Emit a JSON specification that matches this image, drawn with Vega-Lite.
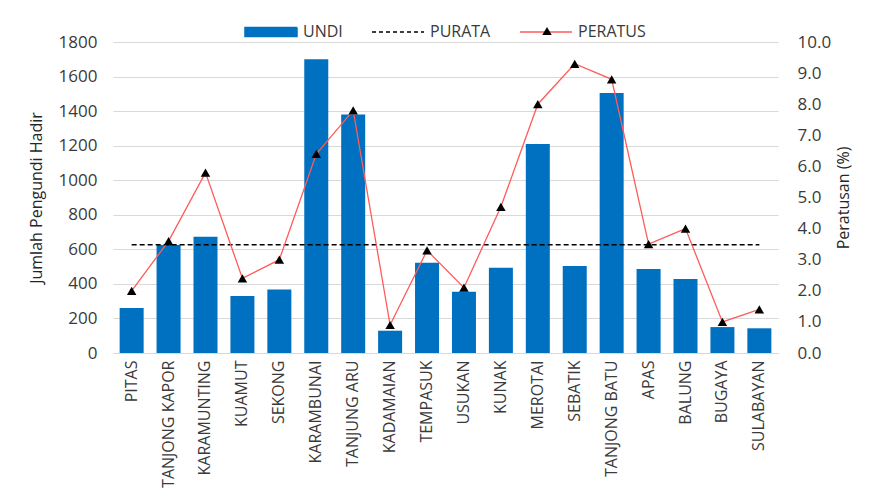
{
  "$schema": "https://vega.github.io/schema/vega-lite/v6.json",
  "width": 665,
  "height": 311,
  "autosize": {"type": "none"},
  "padding": {"left": 113, "top": 42, "right": 106, "bottom": 145},
  "background": "white",
  "config": {
    "font": "Open Sans",
    "view": {"stroke": null},
    "axis": {"labelFont": "Open Sans", "titleFont": "Open Sans", "labelColor": "#3a3a3a", "titleColor": "#262626", "titleFontWeight": "normal"}
  },
  "data": {
    "values": [
      {"kawasan": "PITAS", "UNDI": 260, "PURATA": 626, "PERATUS": 2.0},
      {"kawasan": "TANJONG KAPOR", "UNDI": 625, "PURATA": 626, "PERATUS": 3.6},
      {"kawasan": "KARAMUNTING", "UNDI": 673, "PURATA": 626, "PERATUS": 5.8},
      {"kawasan": "KUAMUT", "UNDI": 330, "PURATA": 626, "PERATUS": 2.4},
      {"kawasan": "SEKONG", "UNDI": 368, "PURATA": 626, "PERATUS": 3.0},
      {"kawasan": "KARAMBUNAI", "UNDI": 1700, "PURATA": 626, "PERATUS": 6.4},
      {"kawasan": "TANJUNG ARU", "UNDI": 1380, "PURATA": 626, "PERATUS": 7.8},
      {"kawasan": "KADAMAIAN", "UNDI": 129, "PURATA": 626, "PERATUS": 0.9},
      {"kawasan": "TEMPASUK", "UNDI": 523, "PURATA": 626, "PERATUS": 3.3},
      {"kawasan": "USUKAN", "UNDI": 355, "PURATA": 626, "PERATUS": 2.1},
      {"kawasan": "KUNAK", "UNDI": 494, "PURATA": 626, "PERATUS": 4.7},
      {"kawasan": "MEROTAI", "UNDI": 1209, "PURATA": 626, "PERATUS": 8.0},
      {"kawasan": "SEBATIK", "UNDI": 503, "PURATA": 626, "PERATUS": 9.3},
      {"kawasan": "TANJONG BATU", "UNDI": 1505, "PURATA": 626, "PERATUS": 8.8},
      {"kawasan": "APAS", "UNDI": 486, "PURATA": 626, "PERATUS": 3.5},
      {"kawasan": "BALUNG", "UNDI": 428, "PURATA": 626, "PERATUS": 4.0},
      {"kawasan": "BUGAYA", "UNDI": 150, "PURATA": 626, "PERATUS": 1.0},
      {"kawasan": "SULABAYAN", "UNDI": 143, "PURATA": 626, "PERATUS": 1.4}
    ]
  },
  "encoding": {
    "x": {
      "field": "kawasan",
      "type": "nominal",
      "sort": null,
      "scale": {"paddingInner": 0.35, "paddingOuter": 0.18},
      "axis": {"title": null, "labelAngle": -90, "labelFontSize": 16, "labelColor": "#3a3a3a", "ticks": false, "domainColor": "#d9d9d9", "labelPadding": 7, "grid": false, "labelOverlap": false}
    }
  },
  "layer": [
    {
      "mark": {"type": "bar", "fill": "#0070C0"},
      "encoding": {
        "y": {
          "field": "UNDI",
          "type": "quantitative",
          "scale": {"domain": [0, 1800]},
          "axis": {"title": "Jumlah Pengundi Hadir", "titleFontSize": 16, "labelFontSize": 17, "format": "d", "values": [0, 200, 400, 600, 800, 1000, 1200, 1400, 1600, 1800], "labelOverlap": false, "grid": true, "gridColor": "#d9d9d9", "gridOpacity": 1, "gridWidth": 1, "domain": false, "ticks": false, "labelPadding": 16, "titlePadding": 14}
        },
        "color": {
          "datum": "UNDI",
          "type": "nominal",
          "scale": {"domain": ["UNDI", "PURATA", "PERATUS"], "range": ["#0070C0", "#000000", "#FF5B5B"]},
          "legend": {
            "title": null,
            "orient": "none",
            "legendX": 131,
            "legendY": -37,
            "direction": "horizontal",
            "labelFontSize": 16,
            "labelColor": "#3a3a3a",
            "labelFont": "Open Sans",
            "symbolSize": 2704,
            "labelOffset": 5,
            "columnPadding": 26,
            "encode": {
              "symbols": {
                "update": {
                  "shape": {"signal": "datum.value === 'UNDI' ? 'M-1,-0.17H1V0.17H-1Z' : 'M-1,0H1'"},
                  "fill": {"signal": "datum.value === 'UNDI' ? '#0070C0' : 'transparent'"},
                  "stroke": {"signal": "datum.value === 'UNDI' ? '#0070C0' : (datum.value === 'PERATUS' ? '#FF5B5B' : '#000000')"},
                  "strokeWidth": {"value": 1.5},
                  "strokeDash": {"signal": "datum.value === 'PURATA' ? [4, 3] : [1, 0]"},
                  "opacity": {"value": 1}
                }
              }
            }
          }
        }
      }
    },
    {
      "mark": {"type": "line", "strokeDash": [5, 3], "strokeWidth": 1.5},
      "encoding": {
        "y": {
          "field": "PURATA",
          "type": "quantitative",
          "scale": {"domain": [0, 1800]},
          "axis": null
        },
        "color": {"datum": "PURATA", "type": "nominal"}
      }
    },
    {
      "mark": {"type": "line", "strokeWidth": 1.3},
      "encoding": {
        "y": {
          "field": "PERATUS",
          "type": "quantitative",
          "scale": {"domain": [0, 10]},
          "axis": {"orient": "right", "title": "Peratusan (%)", "titleAngle": 270, "titleFontSize": 16, "labelFontSize": 17, "format": ".1f", "values": [0, 1, 2, 3, 4, 5, 6, 7, 8, 9, 10], "labelOverlap": false, "grid": false, "domain": false, "ticks": false, "labelPadding": 19, "titlePadding": 21}
        },
        "color": {"datum": "PERATUS", "type": "nominal"}
      }
    },
    {
      "mark": {"type": "point", "shape": "triangle-up", "filled": true, "fill": "#000000", "opacity": 1, "size": 90},
      "encoding": {
        "y": {
          "field": "PERATUS",
          "type": "quantitative",
          "scale": {"domain": [0, 10]},
          "axis": null
        },
        "shape": {
          "datum": "PERATUS",
          "type": "nominal",
          "scale": {"domain": ["PERATUS"], "range": ["triangle-up"]},
          "legend": {"title": null, "orient": "none", "legendX": 429, "legendY": -16, "labelExpr": "''", "symbolSize": 90, "symbolFillColor": "#000000", "symbolStrokeColor": "#000000", "symbolStrokeWidth": 0, "symbolOpacity": 1, "labelFontSize": 1}
        }
      }
    }
  ],
  "resolve": {"scale": {"y": "independent"}}
}
